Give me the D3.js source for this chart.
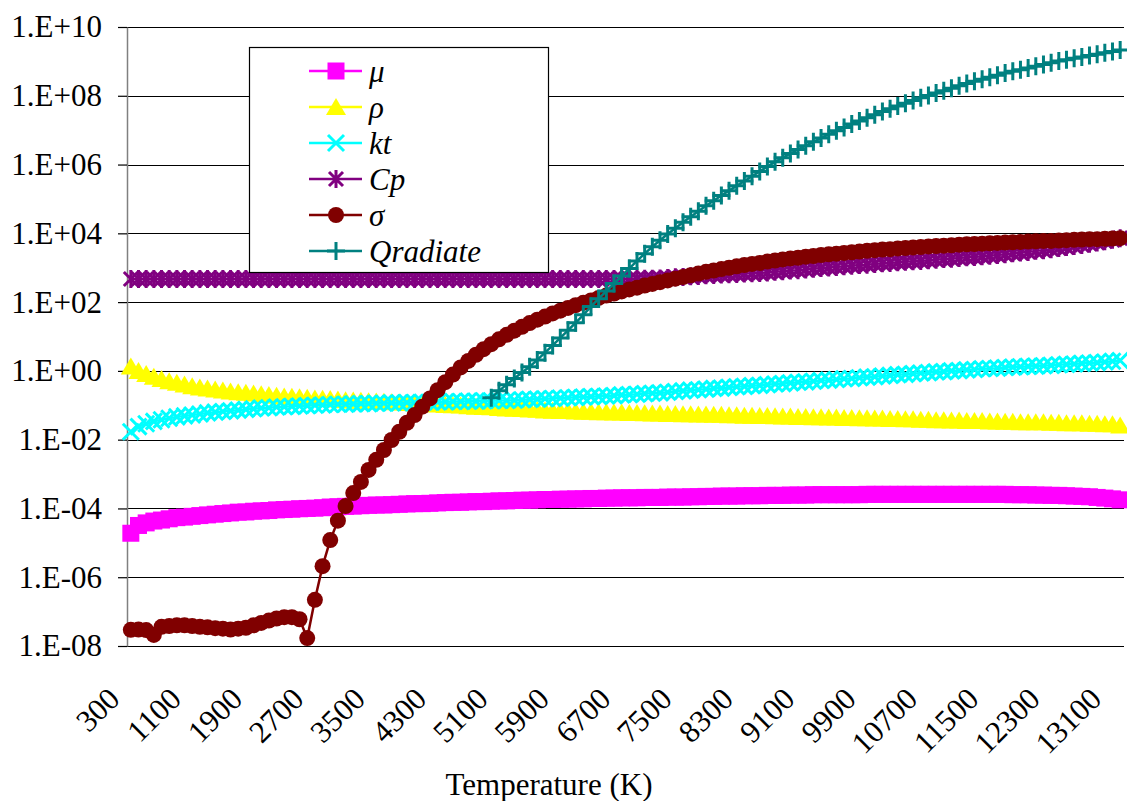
<!DOCTYPE html>
<html>
<head>
<meta charset="utf-8">
<script src="https://cdn.jsdelivr.net/npm/d3@7"></script>
<style>
  body { margin: 0; background: #fff; }
</style>
</head>
<body>
<div id="chart"></div>
<script>
// temperature categories (K)
var temperatures = [
  300, 400, 500, 600, 700, 800, 900, 1000, 1100, 1200,
  1300, 1400, 1500, 1600, 1700, 1800, 1900, 2000, 2100, 2200,
  2300, 2400, 2500, 2600, 2700, 2800, 2900, 3000, 3100, 3200,
  3300, 3400, 3500, 3600, 3700, 3800, 3900, 4000, 4100, 4200,
  4300, 4400, 4500, 4600, 4700, 4800, 4900, 5000, 5100, 5200,
  5300, 5400, 5500, 5600, 5700, 5800, 5900, 6000, 6100, 6200,
  6300, 6400, 6500, 6600, 6700, 6800, 6900, 7000, 7100, 7200,
  7300, 7400, 7500, 7600, 7700, 7800, 7900, 8000, 8100, 8200,
  8300, 8400, 8500, 8600, 8700, 8800, 8900, 9000, 9100, 9200,
  9300, 9400, 9500, 9600, 9700, 9800, 9900, 10000, 10100, 10200,
  10300, 10400, 10500, 10600, 10700, 10800, 10900, 11000, 11100, 11200,
  11300, 11400, 11500, 11600, 11700, 11800, 11900, 12000, 12100, 12200,
  12300, 12400, 12500, 12600, 12700, 12800, 12900, 13000, 13100, 13200
];

var mu = [
  1.9e-5, 3.2e-5, 3.8e-5, 4.3e-5, 4.6e-5, 5.0e-5, 5.4e-5, 5.6e-5, 5.9e-5, 6.2e-5,
  6.5e-5, 6.8e-5, 7.1e-5, 7.4e-5, 7.8e-5, 7.9e-5, 8.3e-5, 8.5e-5, 8.7e-5, 9.1e-5,
  9.3e-5, 9.5e-5, 9.8e-5, 1.00e-4, 1.02e-4, 1.05e-4, 1.10e-4, 1.12e-4, 1.15e-4, 1.17e-4,
  1.20e-4, 1.23e-4, 1.26e-4, 1.26e-4, 1.29e-4, 1.32e-4, 1.35e-4, 1.38e-4, 1.38e-4, 1.41e-4,
  1.45e-4, 1.48e-4, 1.51e-4, 1.51e-4, 1.55e-4, 1.58e-4, 1.58e-4, 1.62e-4, 1.66e-4, 1.66e-4,
  1.70e-4, 1.74e-4, 1.74e-4, 1.78e-4, 1.82e-4, 1.82e-4, 1.86e-4, 1.86e-4, 1.90e-4, 1.90e-4,
  1.95e-4, 1.95e-4, 2.00e-4, 2.00e-4, 2.04e-4, 2.04e-4, 2.04e-4, 2.09e-4, 2.09e-4, 2.09e-4,
  2.14e-4, 2.14e-4, 2.14e-4, 2.19e-4, 2.19e-4, 2.24e-4, 2.24e-4, 2.29e-4, 2.29e-4, 2.29e-4,
  2.34e-4, 2.34e-4, 2.34e-4, 2.40e-4, 2.40e-4, 2.40e-4, 2.45e-4, 2.45e-4, 2.45e-4, 2.51e-4,
  2.51e-4, 2.51e-4, 2.51e-4, 2.51e-4, 2.51e-4, 2.51e-4, 2.57e-4, 2.57e-4, 2.57e-4, 2.57e-4,
  2.57e-4, 2.57e-4, 2.57e-4, 2.57e-4, 2.57e-4, 2.57e-4, 2.57e-4, 2.57e-4, 2.57e-4, 2.57e-4,
  2.57e-4, 2.57e-4, 2.57e-4, 2.57e-4, 2.57e-4, 2.51e-4, 2.51e-4, 2.51e-4, 2.45e-4, 2.45e-4,
  2.40e-4, 2.40e-4, 2.34e-4, 2.29e-4, 2.24e-4, 2.19e-4, 2.09e-4, 2.00e-4, 1.90e-4, 1.78e-4
];

var rho = [
  1.35, 1.00, 0.81, 0.68, 0.58, 0.50, 0.45, 0.40, 0.36, 0.33,
  0.31, 0.29, 0.27, 0.25, 0.24, 0.23, 0.22, 0.21, 0.20, 0.19,
  0.18, 0.178, 0.170, 0.166, 0.158, 0.155, 0.151, 0.148, 0.141, 0.138,
  0.135, 0.132, 0.129, 0.126, 0.123, 0.120, 0.117, 0.115, 0.112, 0.110,
  0.105, 0.102, 0.100, 0.098, 0.093, 0.091, 0.089, 0.087, 0.083, 0.081,
  0.079, 0.078, 0.076, 0.074, 0.071, 0.069, 0.068, 0.068, 0.066, 0.065,
  0.065, 0.063, 0.063, 0.062, 0.062, 0.060, 0.060, 0.059, 0.058, 0.058,
  0.056, 0.056, 0.055, 0.055, 0.054, 0.054, 0.053, 0.053, 0.051, 0.051,
  0.050, 0.050, 0.049, 0.049, 0.048, 0.047, 0.047, 0.046, 0.046, 0.045,
  0.045, 0.044, 0.044, 0.043, 0.043, 0.042, 0.042, 0.041, 0.041, 0.040,
  0.040, 0.039, 0.039, 0.038, 0.038, 0.037, 0.037, 0.036, 0.036, 0.035,
  0.035, 0.035, 0.034, 0.034, 0.033, 0.033, 0.032, 0.032, 0.032, 0.032,
  0.031, 0.031, 0.030, 0.030, 0.030, 0.029, 0.029, 0.028, 0.028, 0.026
];

var kt = [
  0.017, 0.024, 0.029, 0.034, 0.038, 0.042, 0.046, 0.049, 0.052, 0.056,
  0.060, 0.063, 0.066, 0.069, 0.072, 0.076, 0.079, 0.083, 0.085, 0.089,
  0.091, 0.093, 0.095, 0.098, 0.100, 0.102, 0.105, 0.107, 0.107, 0.110,
  0.112, 0.112, 0.115, 0.115, 0.117, 0.117, 0.120, 0.120, 0.123, 0.123,
  0.126, 0.126, 0.129, 0.129, 0.132, 0.132, 0.135, 0.135, 0.138, 0.138,
  0.141, 0.145, 0.148, 0.151, 0.155, 0.158, 0.162, 0.166, 0.170, 0.174,
  0.178, 0.182, 0.186, 0.191, 0.200, 0.204, 0.209, 0.219, 0.224, 0.229,
  0.240, 0.251, 0.263, 0.275, 0.282, 0.295, 0.309, 0.316, 0.331, 0.347,
  0.355, 0.372, 0.380, 0.398, 0.417, 0.427, 0.447, 0.468, 0.479, 0.501,
  0.525, 0.537, 0.562, 0.589, 0.603, 0.631, 0.661, 0.676, 0.708, 0.741,
  0.776, 0.794, 0.832, 0.871, 0.891, 0.933, 0.955, 1.00, 1.02, 1.07,
  1.10, 1.15, 1.17, 1.20, 1.26, 1.29, 1.32, 1.35, 1.38, 1.41,
  1.45, 1.51, 1.55, 1.58, 1.66, 1.70, 1.74, 1.82, 1.91, 2.00
];

var cp = [
  470, 470, 470, 470, 470, 470, 470, 470, 470, 470,
  470, 470, 470, 470, 470, 470, 470, 470, 470, 470,
  470, 470, 470, 470, 470, 470, 470, 470, 470, 470,
  470, 470, 470, 470, 470, 470, 470, 470, 470, 470,
  470, 470, 470, 470, 470, 470, 470, 470, 470, 470,
  470, 470, 470, 470, 470, 470, 470, 470, 470, 470,
  470, 470, 470, 471, 472, 473, 474, 476, 479, 490,
  501, 525, 537, 562, 575, 603, 617, 631, 646, 661,
  676, 692, 708, 724, 759, 794, 832, 851, 891, 933,
  977, 1020, 1050, 1100, 1150, 1200, 1230, 1290, 1350, 1380,
  1450, 1480, 1550, 1580, 1660, 1700, 1780, 1820, 1910, 2000,
  2040, 2140, 2240, 2340, 2450, 2630, 2750, 2880, 3090, 3240,
  3470, 3720, 3980, 4270, 4570, 5010, 5370, 5890, 6460, 7240
];

var sigma = [
  2.95e-8, 3.0e-8, 2.9e-8, 2.1e-8, 3.6e-8, 3.8e-8, 4.0e-8, 4.0e-8, 3.8e-8, 3.6e-8,
  3.5e-8, 3.3e-8, 3.2e-8, 3.0e-8, 3.2e-8, 3.4e-8, 4.0e-8, 4.7e-8, 5.5e-8, 6.3e-8,
  6.9e-8, 6.9e-8, 6.0e-8, 1.7e-8, 2.2e-7, 2.1e-6, 1.2e-5, 4.4e-5, 1.17e-4, 2.8e-4,
  5.9e-4, 1.32e-3, 2.6e-3, 5.0e-3, 9.8e-3, 0.017, 0.031, 0.052, 0.091, 0.158,
  0.275, 0.47, 0.78, 1.26, 1.95, 2.95, 4.27, 6.0, 8.3, 11.2,
  14.8, 19.1, 24.5, 30.9, 38.0, 46.8, 56.2, 67.6, 81.3, 95.5,
  112, 132, 155, 178, 204, 234, 263, 302, 339, 380,
  427, 479, 537, 603, 676, 759, 832, 912, 1000, 1100,
  1200, 1290, 1380, 1510, 1620, 1740, 1860, 1950, 2090, 2190,
  2340, 2450, 2570, 2690, 2820, 2950, 3090, 3240, 3390, 3470,
  3630, 3720, 3890, 3980, 4170, 4270, 4370, 4470, 4680, 4790,
  4900, 5010, 5130, 5250, 5370, 5500, 5620, 5750, 5890, 6030,
  6030, 6170, 6310, 6460, 6610, 6760, 6760, 6920, 7080, 7240
];

var qradiate = [
  null, null, null, null, null, null, null, null, null, null,
  null, null, null, null, null, null, null, null, null, null,
  null, null, null, null, null, null, null, null, null, null,
  null, null, null, null, null, null, null, null, null, null,
  null, null, null, null, null, null, null, 0.166, 0.263, 0.398,
  0.603, 0.891, 1.32, 2.09, 3.39, 5.50, 9.12, 15.1, 25.1, 42.7,
  74.1, 126, 209, 347, 575, 955, 1580, 2570, 4070, 6310,
  9550, 1.41e4, 2.09e4, 3.02e4, 4.37e4, 6.31e4, 8.91e4, 1.26e5, 1.74e5, 2.40e5,
  3.31e5, 4.57e5, 6.31e5, 8.71e5, 1.20e6, 1.58e6, 2.09e6, 2.75e6, 3.55e6, 4.57e6,
  5.89e6, 7.59e6, 9.55e6, 1.20e7, 1.51e7, 1.86e7, 2.29e7, 2.82e7, 3.47e7, 4.17e7,
  5.01e7, 6.03e7, 7.24e7, 8.71e7, 1.02e8, 1.20e8, 1.41e8, 1.66e8, 1.95e8, 2.29e8,
  2.63e8, 3.02e8, 3.47e8, 3.98e8, 4.57e8, 5.13e8, 5.75e8, 6.46e8, 7.24e8, 8.13e8,
  9.12e8, 1.02e9, 1.12e9, 1.23e9, 1.35e9, 1.48e9, 1.62e9, 1.78e9, 1.95e9, 2.14e9
];

var seriesNames = ["\u03bc", "\u03c1", "kt", "Cp", "\u03c3", "Qradiate"];
var seriesColors = ["#ff00ff", "#ffff00", "#00ffff", "#800080", "#800000", "#008080"];
var seriesMarkers = ["square", "triangle", "x", "star", "circle", "plus"];

var yTickValues = [1e-8, 1e-6, 1e-4, 1e-2, 1e0, 1e2, 1e4, 1e6, 1e8, 1e10];
var yTickLabels = ["1.E-08", "1.E-06", "1.E-04", "1.E-02", "1.E+00", "1.E+02", "1.E+04", "1.E+06", "1.E+08", "1.E+10"];
var xTickLabels = [300, 1100, 1900, 2700, 3500, 4300, 5100, 5900, 6700, 7500, 8300, 9100, 9900, 10700, 11500, 12300, 13100];

var serif = "'Liberation Serif'";

var series = [mu, rho, kt, cp, sigma, qradiate].map(function (vals, i) {
  return {
    name: seriesNames[i], color: seriesColors[i], marker: seriesMarkers[i],
    points: vals.map(function (v, j) { return { t: temperatures[j], v: v }; })
  };
});

var width = 1127, height = 801;
var plot = { left: 127, right: 1124, top: 27, bottom: 646 };

var svg = d3.select("#chart").append("svg")
    .attr("width", width)
    .attr("height", height);

svg.append("rect").attr("width", width).attr("height", height).attr("fill", "#fff");

var x = d3.scalePoint().domain(temperatures).range([plot.left, plot.right]).padding(0.5);
var y = d3.scaleLog().domain([1e-8, 1e10]).range([plot.bottom, plot.top]);

// gridlines
svg.append("g").selectAll("line")
  .data(yTickValues)
  .enter().append("line")
    .attr("x1", plot.left).attr("x2", plot.right)
    .attr("y1", function (d) { return Math.round(y(d)) + 0.5; })
    .attr("y2", function (d) { return Math.round(y(d)) + 0.5; })
    .attr("stroke", "#000")
    .attr("stroke-width", 1.2);

// y axis
var yAxis = svg.append("g")
    .attr("transform", "translate(" + plot.left + ",0)")
    .call(d3.axisLeft(y).tickValues(yTickValues).tickSize(9).tickSizeOuter(0).tickPadding(16)
      .tickFormat(function (d, i) { return yTickLabels[i]; }));
yAxis.select(".domain").attr("stroke", "#808080").attr("stroke-width", 1.5);
yAxis.selectAll(".tick line").attr("stroke", "#000").attr("stroke-width", 1.2);
yAxis.selectAll(".tick text")
    .style("font-family", serif)
    .style("font-size", "31px")
    .attr("fill", "#000");

// x labels
svg.append("g").selectAll("text")
  .data(xTickLabels)
  .enter().append("text")
    .attr("transform", function (d) { return "translate(" + (x(d) - 17) + ",693) rotate(-45)"; })
    .attr("text-anchor", "end")
    .attr("dy", "0.35em")
    .style("font-size", "31px")
    .style("font-family", serif)
    .text(function (d) { return d; });

svg.append("text")
    .attr("x", 549).attr("y", 795)
    .attr("text-anchor", "middle")
    .style("font-size", "31px")
    .style("font-family", serif)
    .text("Temperature (K)");

function drawMarker(g, type, color) {
  if (type === "square") {
    g.append("rect").attr("x", -8.5).attr("y", -8.5).attr("width", 17).attr("height", 17).attr("fill", color);
  } else if (type === "triangle") {
    g.append("path").attr("d", "M0,-9L10,8L-10,8Z").attr("fill", color);
  } else if (type === "x") {
    g.append("path").attr("d", "M-8,-8L8,8M-8,8L8,-8").attr("stroke", color).attr("stroke-width", 3).attr("fill", "none");
  } else if (type === "star") {
    g.append("path").attr("d", "M-7,-7L7,7M-7,7L7,-7M0,-9V9").attr("stroke", color).attr("stroke-width", 3).attr("fill", "none");
  } else if (type === "circle") {
    g.append("circle").attr("r", 8).attr("fill", color);
  } else if (type === "plus") {
    g.append("path").attr("d", "M-9,0H9M0,-9V9").attr("stroke", color).attr("stroke-width", 3).attr("fill", "none");
  }
}

var line = d3.line()
    .defined(function (d) { return d.v != null; })
    .x(function (d) { return x(d.t); })
    .y(function (d) { return y(d.v); });

series.forEach(function (s) {
  var g = svg.append("g");
  g.append("path")
    .datum(s.points)
    .attr("d", line)
    .attr("fill", "none")
    .attr("stroke", s.color)
    .attr("stroke-width", 2.5);
  g.selectAll("g.mk")
    .data(s.points.filter(function (d) { return d.v != null; }))
    .enter().append("g")
      .attr("class", "mk")
      .attr("transform", function (d) { return "translate(" + x(d.t) + "," + y(d.v) + ")"; })
      .each(function () { drawMarker(d3.select(this), s.marker, s.color); });
});

// legend
var legend = svg.append("g");
legend.append("rect")
    .attr("x", 249.5).attr("y", 47.5)
    .attr("width", 299).attr("height", 225)
    .attr("fill", "#fff")
    .attr("stroke", "#000")
    .attr("stroke-width", 1.2);

var items = legend.selectAll("g.item")
  .data(series)
  .enter().append("g")
    .attr("class", "item")
    .attr("transform", function (d, i) { return "translate(0," + (71 + i * 36) + ")"; });

items.append("line")
    .attr("x1", 309).attr("x2", 362)
    .attr("stroke", function (d) { return d.color; })
    .attr("stroke-width", 2.5);
items.append("g")
    .attr("transform", "translate(336,0)")
    .each(function (d) { drawMarker(d3.select(this), d.marker, d.color); });
items.append("text")
    .attr("x", 369)
    .attr("dy", "0.35em")
    .style("font-size", "31px")
    .style("font-style", "italic")
    .style("font-family", serif)
    .text(function (d) { return d.name; });
</script>
</body>
</html>
